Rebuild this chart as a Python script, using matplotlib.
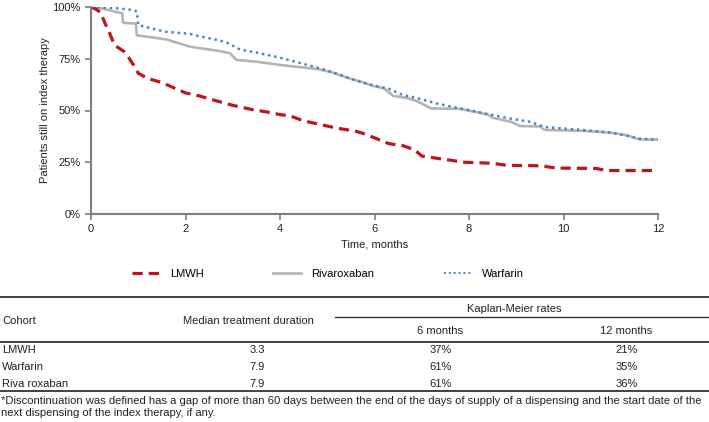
import matplotlib.pyplot as plt
from matplotlib.lines import Line2D
from matplotlib.ticker import PercentFormatter

# =====================
# DATA
lmwh_t = [0, 0.1, 0.2, 0.3, 0.4, 0.5, 0.6, 0.7, 0.8, 0.9, 1.0, 1.2, 1.5, 1.75,
          2.0, 2.3, 2.6, 3.0, 3.4, 3.8, 4.0, 4.2, 4.5, 4.9, 5.2, 5.6, 5.75,
          6.0, 6.3, 6.6, 6.85, 7.0, 7.3, 7.6, 7.9, 8.5, 8.8, 9.5, 9.85, 10.7,
          10.9, 12]
lmwh_v = [100, 99, 97.5, 92, 87, 81.5, 80, 78.5, 75.5, 72, 68, 65.5, 63.5, 61,
          58.5, 57, 55, 52.5, 50.5, 49, 48, 47.5, 45, 43, 41.5, 40, 39,
          36.8, 34, 33, 31, 28, 27, 26, 25, 24.5, 23.5, 23.3, 22.2, 22,
          21, 21]

warf_t = [0, 0.5, 0.9, 0.97, 1.0, 1.3, 1.6, 2.1, 2.3, 2.7, 2.9, 3.15, 3.5, 4.0,
          4.5, 4.9, 5.3, 5.6, 6.0, 6.3, 6.6, 6.9, 7.3, 7.6, 8.0, 8.45, 8.9,
          9.3, 9.6, 10.0, 10.4, 11.0, 11.3, 11.6, 12]
warf_v = [100, 99.5, 98.5, 97.8, 91.3, 89.5, 88, 87, 85.8, 84, 82.5, 79.5, 78, 75.5,
          72.5, 70, 67, 64.5, 62, 60.5, 57.5, 56, 53.5, 52, 50.2, 48, 46,
          44.5, 42, 41.3, 40.6, 39.3, 38, 36.5, 35.8]

riva_t = [0, 0.2, 0.45, 0.66, 0.68, 0.95, 0.97, 1.3, 1.6, 2.1, 2.4, 2.7, 2.94, 3.08,
          3.5, 4.0, 4.4, 4.8, 5.1, 5.4, 5.7, 5.95, 6.2, 6.4, 6.7, 6.9, 7.2, 7.8,
          8.1, 8.4, 8.5, 8.9, 9.08, 9.5, 9.6, 10.4, 11.0, 11.35, 11.6, 12]
riva_v = [100, 99.5, 98, 97, 92.4, 92, 86.3, 85.3, 84.3, 80.8, 79.8, 78.8, 77.7, 74.4,
          73.6, 72, 71, 70, 68.5, 66, 64, 62, 60.7, 57, 56, 54.5, 51, 50.8,
          49.5, 48, 46.5, 44.5, 42.5, 42.3, 40.6, 40.2, 39.3, 38, 36, 36]

cohorts = ["LMWH", "Warfarin", "Riva roxaban"]
median_duration = ["3.3", "7.9", "7.9"]
km_6 = ["37%", "61%", "61%"]
km_12 = ["21%", "35%", "36%"]

footnote = ("*Discontinuation was defined has a gap of more than 60 days between the end of the "
            "days of supply of a dispensing and the start date of the\n"
            "next dispensing of the index therapy, if any.")
# =====================

plt.rcParams['font.family'] = ['Liberation Sans', 'DejaVu Sans']
W, H = 709, 422
fig = plt.figure(figsize=(W / 100, H / 100), dpi=100)


def fx(px):
    return px / W


def fy(py):
    return 1 - py / H


ax = fig.add_axes([fx(91), fy(214), fx(658) - fx(91), fy(7) - fy(214)])

red = '#c0141c'
gray = '#b4b4b4'
blue = '#4b86c3'
red_ls = (0, (3.2, 1.9))
blue_ls = (0, (1, 1.5))
ax.plot(riva_t, riva_v, color=gray, lw=1.9, label='Rivaroxaban')
ax.plot(warf_t, warf_v, color=blue, lw=1.8, linestyle=blue_ls, label='Warfarin')
ax.plot(lmwh_t, lmwh_v, color=red, lw=2.3, linestyle=red_ls, label='LMWH')

ax.set_xlim(0, 12)
ax.set_ylim(0, 100)
ax.set_xticks(range(0, 13, 2))
ax.set_yticks([0, 25, 50, 75, 100])
ax.yaxis.set_major_formatter(PercentFormatter(decimals=0))
for s in ['top', 'right']:
    ax.spines[s].set_visible(False)
for s in ['left', 'bottom']:
    ax.spines[s].set_color('#7f7f7f')
    ax.spines[s].set_linewidth(1.5)
ax.tick_params(colors='#7f7f7f', labelcolor='#222222', labelsize=8, length=4, width=1.2)
ax.set_xlabel("Time, months", fontsize=8, color='#222222', labelpad=4)
fig.text(fx(45), fy(110), "Patients still on index therapy", rotation=90,
         ha='center', va='center', fontsize=8, color='#222222')

handles = [Line2D([], [], color=red, lw=2.3, linestyle=red_ls),
           Line2D([], [], color=gray, lw=1.9),
           Line2D([], [], color=blue, lw=1.4, linestyle=blue_ls)]
fig.legend(handles, ['LMWH', 'Rivaroxaban', 'Warfarin'], loc='center',
           bbox_to_anchor=(fx(328), fy(274)), ncol=3, frameon=False, fontsize=8,
           handlelength=2.5, handletextpad=0.9, columnspacing=6.3)

# table
txt = dict(fontsize=8, color='#222222', va='center')


def hline(x0, x1, y, lw=1.0):
    fig.add_artist(Line2D([fx(x0), fx(x1)], [fy(y), fy(y)], transform=fig.transFigure,
                          color='#333333', lw=lw))


hline(0, W, 296.5, 1.3)
hline(335, W, 316.5, 1.0)
hline(0, W, 341.5, 1.3)
hline(0, W, 390.5, 1.3)

fig.text(fx(2), fy(321.5), "Cohort", ha='left', **txt)
fig.text(fx(248), fy(321.5), "Median treatment duration", ha='center', **txt)
fig.text(fx(514), fy(309), "Kaplan-Meier rates", ha='center', **txt)
fig.text(fx(440), fy(331.5), "6 months", ha='center', **txt)
fig.text(fx(626), fy(331.5), "12 months", ha='center', **txt)

row_y = [350, 367, 384]
for i in range(len(cohorts)):
    fig.text(fx(2), fy(row_y[i]), cohorts[i], ha='left', **txt)
    fig.text(fx(257), fy(row_y[i]), median_duration[i], ha='center', **txt)
    fig.text(fx(441), fy(row_y[i]), km_6[i], ha='center', **txt)
    fig.text(fx(627), fy(row_y[i]), km_12[i], ha='center', **txt)

fig.text(fx(1), fy(395.5), footnote, ha='left', va='top', fontsize=8.15, color='#222222',
         linespacing=1.35)

fig.savefig("out.png", dpi=100)
